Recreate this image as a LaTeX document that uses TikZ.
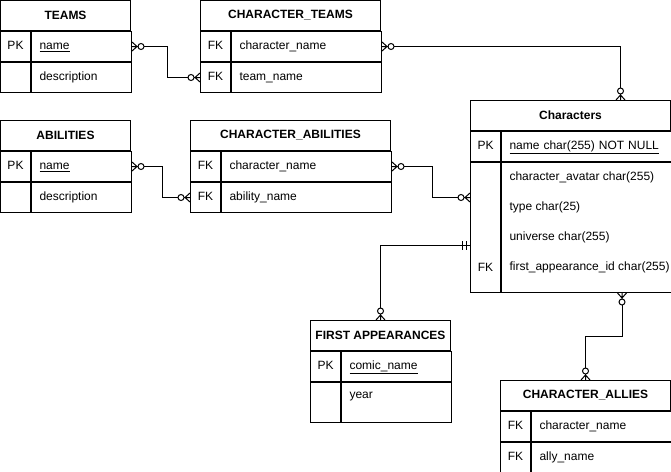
\documentclass[tikz,border=0pt]{standalone}
\usepackage{fontspec}
\setmainfont{Liberation Sans}
\usetikzlibrary{positioning}

\newcommand{\erfont}{\fontsize{12}{14}\selectfont}

% crow's foot with a circle (zero or many)
\pgfdeclarearrow{
  name = ZeroMany,
  setup code = {
    \pgfarrowssettipend{0pt}
    \pgfarrowssetlineend{-12pt}
    \pgfarrowsupperhullpoint{0pt}{4.5pt}
    \pgfarrowsupperhullpoint{-12pt}{4.5pt}
  },
  drawing code = {
    \pgfsetdash{}{0pt}
    \pgfpathmoveto{\pgfpoint{0pt}{4.5pt}}
    \pgfpathlineto{\pgfpoint{-5pt}{0pt}}
    \pgfpathlineto{\pgfpoint{0pt}{-4.5pt}}
    \pgfpathmoveto{\pgfpoint{0pt}{0pt}}
    \pgfpathlineto{\pgfpoint{-6pt}{0pt}}
    \pgfusepathqstroke
    \pgfpathcircle{\pgfpoint{-9pt}{0pt}}{3pt}
    \pgfusepathqstroke
  }
}
% two bars (one and only one)
\pgfdeclarearrow{
  name = OneOne,
  setup code = {
    \pgfarrowssettipend{0pt}
    \pgfarrowssetlineend{0pt}
    \pgfarrowsupperhullpoint{0pt}{4.5pt}
    \pgfarrowsupperhullpoint{-9pt}{4.5pt}
  },
  drawing code = {
    \pgfsetdash{}{0pt}
    \pgfpathmoveto{\pgfpoint{-4pt}{4.5pt}}
    \pgfpathlineto{\pgfpoint{-4pt}{-4.5pt}}
    \pgfpathmoveto{\pgfpoint{-8pt}{4.5pt}}
    \pgfpathlineto{\pgfpoint{-8pt}{-4.5pt}}
    \pgfusepathqstroke
  }
}

\tikzset{
  tbltitle/.style={draw, minimum width=#1, minimum height=30pt, inner sep=0pt,
    font=\erfont\bfseries},
  keycell/.style={draw, anchor=north west, minimum width=30pt, minimum height=30pt,
    inner sep=0pt, font=\erfont, text height=9pt, text depth=3pt},
  fieldcell/.style={draw, anchor=north west, text width=#1, minimum height=30pt,
    inner xsep=8pt, inner ysep=0pt, align=left, font=\erfont,
    text height=9pt, text depth=3pt},
  fieldtext/.style={anchor=west, inner sep=0pt, font=\erfont},
  zm/.style={arrows={ZeroMany-ZeroMany}},
}

\begin{document}
\begin{tikzpicture}[x=1pt, y=-1pt, line width=1pt]
  \useasboundingbox (-0.5,-0.5) rectangle (670.5,470.5);

  % TEAMS
  \node [tbltitle=130pt] (teams) at (65,15) {TEAMS};
  \node [keycell] (teams-k1) at (teams.south west) {PK};
  \node [fieldcell=84pt] (teams-name) at (teams-k1.north east) {\underline{name}};
  \node [keycell] (teams-k2) at (teams-k1.south west) {};
  \node [fieldcell=84pt] (teams-desc) at (teams-k2.north east) {description};

  % CHARACTER_TEAMS
  \node [tbltitle=180pt] (ct) at (290,15) {CHARACTER\_TEAMS};
  \node [keycell] (ct-k1) at (ct.south west) {FK};
  \node [fieldcell=134pt] (ct-char) at (ct-k1.north east) {character\_name};
  \node [keycell] (ct-k2) at (ct-k1.south west) {FK};
  \node [fieldcell=134pt] (ct-team) at (ct-k2.north east) {team\_name};

  % ABILITIES
  \node [tbltitle=130pt] (ab) at (65,135) {ABILITIES};
  \node [keycell] (ab-k1) at (ab.south west) {PK};
  \node [fieldcell=84pt] (ab-name) at (ab-k1.north east) {\underline{name}};
  \node [keycell] (ab-k2) at (ab-k1.south west) {};
  \node [fieldcell=84pt] (ab-desc) at (ab-k2.north east) {description};

  % CHARACTER_ABILITIES
  \node [tbltitle=200pt] (ca) at (290,135) {CHARACTER\_ABILITIES};
  \node [keycell] (ca-k1) at (ca.south west) {FK};
  \node [fieldcell=154pt] (ca-char) at (ca-k1.north east) {character\_name};
  \node [keycell] (ca-k2) at (ca-k1.south west) {FK};
  \node [fieldcell=154pt] (ca-ability) at (ca-k2.north east) {ability\_name};

  % Characters
  \node [tbltitle=200pt] (chars) at (570,115) {Characters};
  \node [keycell] (chars-k1) at (chars.south west) {PK};
  \node [fieldcell=154pt] (chars-name) at (chars-k1.north east) {\underline{name char(255) NOT NULL}};
  \node [keycell, minimum height=130pt] (chars-bk) at (chars-k1.south west) {};
  \node [fieldcell=154pt, minimum height=130pt] (chars-bf) at (chars-bk.north east) {};
  \node [fieldtext] (chars-avatar) at ([xshift=8pt, yshift=-15pt]chars-bf.north west) {character\_avatar char(255)};
  \node [fieldtext] (chars-type) at ([xshift=8pt, yshift=-45pt]chars-bf.north west) {type char(25)};
  \node [fieldtext] (chars-universe) at ([xshift=8pt, yshift=-75pt]chars-bf.north west) {universe char(255)};
  \node [fieldtext] (chars-first) at ([xshift=8pt, yshift=-105pt]chars-bf.north west) {first\_appearance\_id char(255)};
  \node [fieldtext, anchor=center] (chars-fk) at (chars-bk.center |- chars-first) {FK};

  % FIRST APPEARANCES
  \node [tbltitle=140pt] (fa) at (380,335) {FIRST APPEARANCES};
  \node [keycell] (fa-k1) at (fa.south west) {PK};
  \node [fieldcell=94pt] (fa-comic) at (fa-k1.north east) {\underline{comic\_name}};
  \node [keycell, minimum height=40pt] (fa-bk) at (fa-k1.south west) {};
  \node [fieldcell=94pt, minimum height=40pt] (fa-bf) at (fa-bk.north east) {};
  \node [fieldtext] (fa-year) at ([xshift=8pt, yshift=-15pt]fa-bf.north west) {year};

  % CHARACTER_ALLIES
  \node [tbltitle=170pt] (allies) at (585,395) {CHARACTER\_ALLIES};
  \node [keycell] (allies-k1) at (allies.south west) {FK};
  \node [fieldcell=124pt] (allies-char) at (allies-k1.north east) {character\_name};
  \node [keycell] (allies-k2) at (allies-k1.south west) {FK};
  \node [fieldcell=124pt] (allies-ally) at (allies-k2.north east) {ally\_name};

  % connector ends on Characters
  \coordinate (chars-top) at ([xshift=50pt]chars.north);
  \coordinate (chars-ab) at ([yshift=30pt]chars-bk.west);
  \coordinate (chars-fa) at ([yshift=-18pt]chars-bk.west);
  \coordinate (chars-bot) at ([xshift=-50pt]chars-bf.south east);

  \draw [zm] (teams-name.east) -- ++(35,0) |- (ct-k2.west);
  \draw [zm] (ct-char.east) -| (chars-top);
  \draw [zm] (ab-name.east) -- ++(30,0) |- (ca-k2.west);
  \draw [zm] (ca-char.east) -- ++(40,0) |- (chars-ab);
  \draw [arrows={OneOne-ZeroMany}] (chars-fa) -| (fa.north);
  \draw [zm] (chars-bot) -- ++(0,43) -| (allies.north);
\end{tikzpicture}
\end{document}
